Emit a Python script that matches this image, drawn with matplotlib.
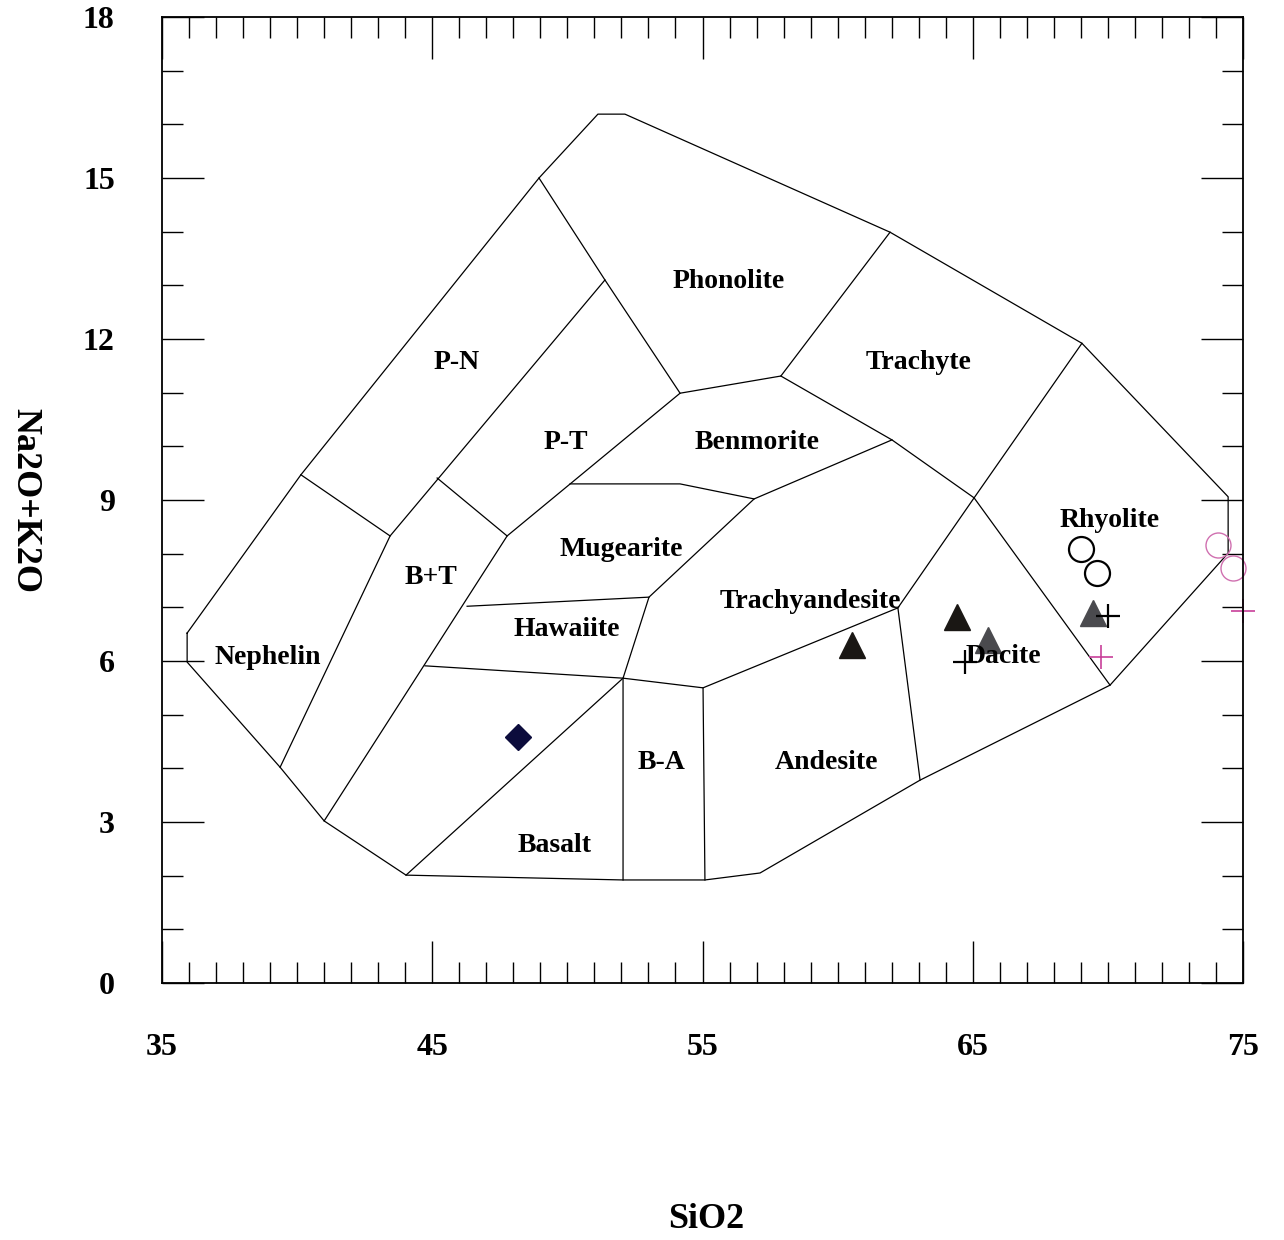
import matplotlib
matplotlib.use("Agg")
import matplotlib.pyplot as plt
from matplotlib.ticker import FixedLocator, MultipleLocator

plt.rcParams['font.family'] = ['Liberation Serif', 'DejaVu Serif']
plt.rcParams['font.weight'] = 'bold'

# outer limit of the classification field (SiO2, Na2O+K2O)
outer_x = [35.93, 35.93, 39.37, 41.0, 44.03, 52.06, 55.09, 57.13, 63.05, 70.08,
           74.45, 74.45, 69.04, 61.94, 52.13, 51.13, 48.95, 40.14, 35.93]
outer_y = [6.52, 5.98, 4.02, 3.02, 2.01, 1.92, 1.92, 2.05, 3.78, 5.55,
           8.01, 9.06, 11.92, 13.99, 16.19, 16.19, 15.0, 9.47, 6.52]

# inner boundaries between the fields
inner_x = [
    [40.14, 43.44, 39.37],          # Nephelin top / right
    [43.44, 51.39],                 # P-N right
    [48.95, 51.39, 54.17],          # P-N / Phonolite
    [45.18, 47.77, 41.0],           # B+T top / right
    [47.77, 54.17, 57.90, 61.94],   # P-T, Phonolite bottom, Phonolite / Trachyte
    [57.90, 62.01, 65.05, 69.04],   # Trachyte bottom, Trachyte / Rhyolite
    [62.23, 65.05, 70.08],          # Trachyandesite / Rhyolite, Dacite / Rhyolite
    [50.10, 54.17, 56.91, 62.01],   # Mugearite top, Benmorite bottom
    [56.91, 53.02, 52.06, 52.06],   # Mugearite / Trachyandesite, Hawaiite right, B-A left
    [46.29, 53.02],                 # Hawaiite top
    [44.73, 52.06, 55.02, 62.23, 63.05],  # Hawaiite bottom, Trachyandesite bottom
    [44.03, 52.06],                 # Basalt diagonal
    [55.02, 55.09],                 # B-A right
]
inner_y = [
    [9.47, 8.33, 4.02],
    [8.33, 13.10],
    [15.0, 13.10, 10.99],
    [9.41, 8.33, 3.02],
    [8.33, 10.99, 11.31, 13.99],
    [11.31, 10.12, 9.04, 11.92],
    [6.99, 9.04, 5.55],
    [9.30, 9.30, 9.02, 10.12],
    [9.02, 7.19, 5.68, 1.92],
    [7.02, 7.19],
    [5.91, 5.68, 5.50, 6.99, 3.78],
    [2.01, 5.68],
    [5.50, 1.92],
]

field_names = ['Phonolite', 'Trachyte', 'P-N', 'P-T', 'Benmorite', 'Rhyolite',
               'Mugearite', 'B+T', 'Trachyandesite', 'Hawaiite', 'Nephelin',
               'Dacite', 'B-A', 'Andesite', 'Basalt']
field_x = [55.98, 63.01, 45.92, 49.95, 57.02, 70.08, 51.98, 44.95, 59.01,
           49.99, 38.92, 66.12, 53.5, 59.57, 49.54]
field_y = [13.08, 11.57, 11.57, 10.08, 10.08, 8.61, 8.07, 7.55, 7.10, 6.58,
           6.06, 6.09, 4.10, 4.10, 2.57]

x_major = [35, 45, 55, 65, 75]

# samples
diamond_x = [48.17]
diamond_y = [4.58]
tri_black_x = [60.53, 64.42]
tri_black_y = [6.30, 6.82]
tri_grey_x = [65.56, 69.45]
tri_grey_y = [6.39, 6.89]
plus_black_x = [70.0, 64.71]
plus_black_y = [6.84, 5.98]
plus_pink_x = [69.74, 75.0]
plus_pink_y = [6.07, 6.93]
circ_black_x = [69.0, 69.6]
circ_black_y = [8.09, 7.64]
circ_pink_x = [74.07, 74.63]
circ_pink_y = [8.16, 7.73]

fig = plt.figure(figsize=(12.84, 12.40), dpi=100)
ax = fig.add_axes([162 / 1284, 257 / 1240, 1081 / 1284, 966 / 1240])

ax.plot(outer_x, outer_y, color='black', lw=0.9)
for xs, ys in zip(inner_x, inner_y):
    ax.plot(xs, ys, color='black', lw=0.9)

for name, x, y in zip(field_names, field_x, field_y):
    ax.text(x, y, name, ha='center', va='center', fontsize=20, fontweight='bold')

ax.plot(diamond_x, diamond_y, 'D', color='#0c0c3c', ms=13.5, ls='none')
ax.plot(tri_black_x, tri_black_y, '^', color='#1a1714', ms=18.5, ls='none')
ax.plot(tri_grey_x, tri_grey_y, '^', color='#4a4a4e', ms=18.5, ls='none')
ax.plot(plus_black_x, plus_black_y, '+', color='black', ms=17, mew=1.6, ls='none')
ax.plot(plus_pink_x, plus_pink_y, '+', color='#c8409a', ms=17, mew=1.2, ls='none',
        clip_on=False)
ax.plot(circ_black_x, circ_black_y, 'o', mfc='none', mec='black', ms=18, mew=1.6,
        ls='none')
ax.plot(circ_pink_x, circ_pink_y, 'o', mfc='none', mec='#d070b0', ms=18, mew=1.0,
        ls='none', clip_on=False)

ax.set_xlim(35, 75)
ax.set_ylim(0, 18)
ax.xaxis.set_major_locator(FixedLocator(x_major))
ax.xaxis.set_minor_locator(MultipleLocator(1))
ax.yaxis.set_major_locator(MultipleLocator(3))
ax.yaxis.set_minor_locator(MultipleLocator(1))
ax.tick_params(which='both', direction='in', top=True, right=True, width=1.0)
ax.tick_params(which='major', length=30, labelsize=23)
ax.tick_params(which='minor', length=15)
ax.tick_params(axis='x', which='major', pad=36)
ax.tick_params(axis='y', which='major', pad=34)
for lbl in ax.get_xticklabels() + ax.get_yticklabels():
    lbl.set_fontweight('bold')
for s in ax.spines.values():
    s.set_linewidth(1.3)

fig.text(706 / 1284, 1 - 1220 / 1240, 'SiO2', ha='center', va='center',
         fontsize=26, fontweight='bold')
fig.text(25 / 1284, 1 - 500 / 1240, 'Na2O+K2O', ha='center', va='center',
         rotation=270, fontsize=26, fontweight='bold')

fig.savefig('out.png', dpi=100)
